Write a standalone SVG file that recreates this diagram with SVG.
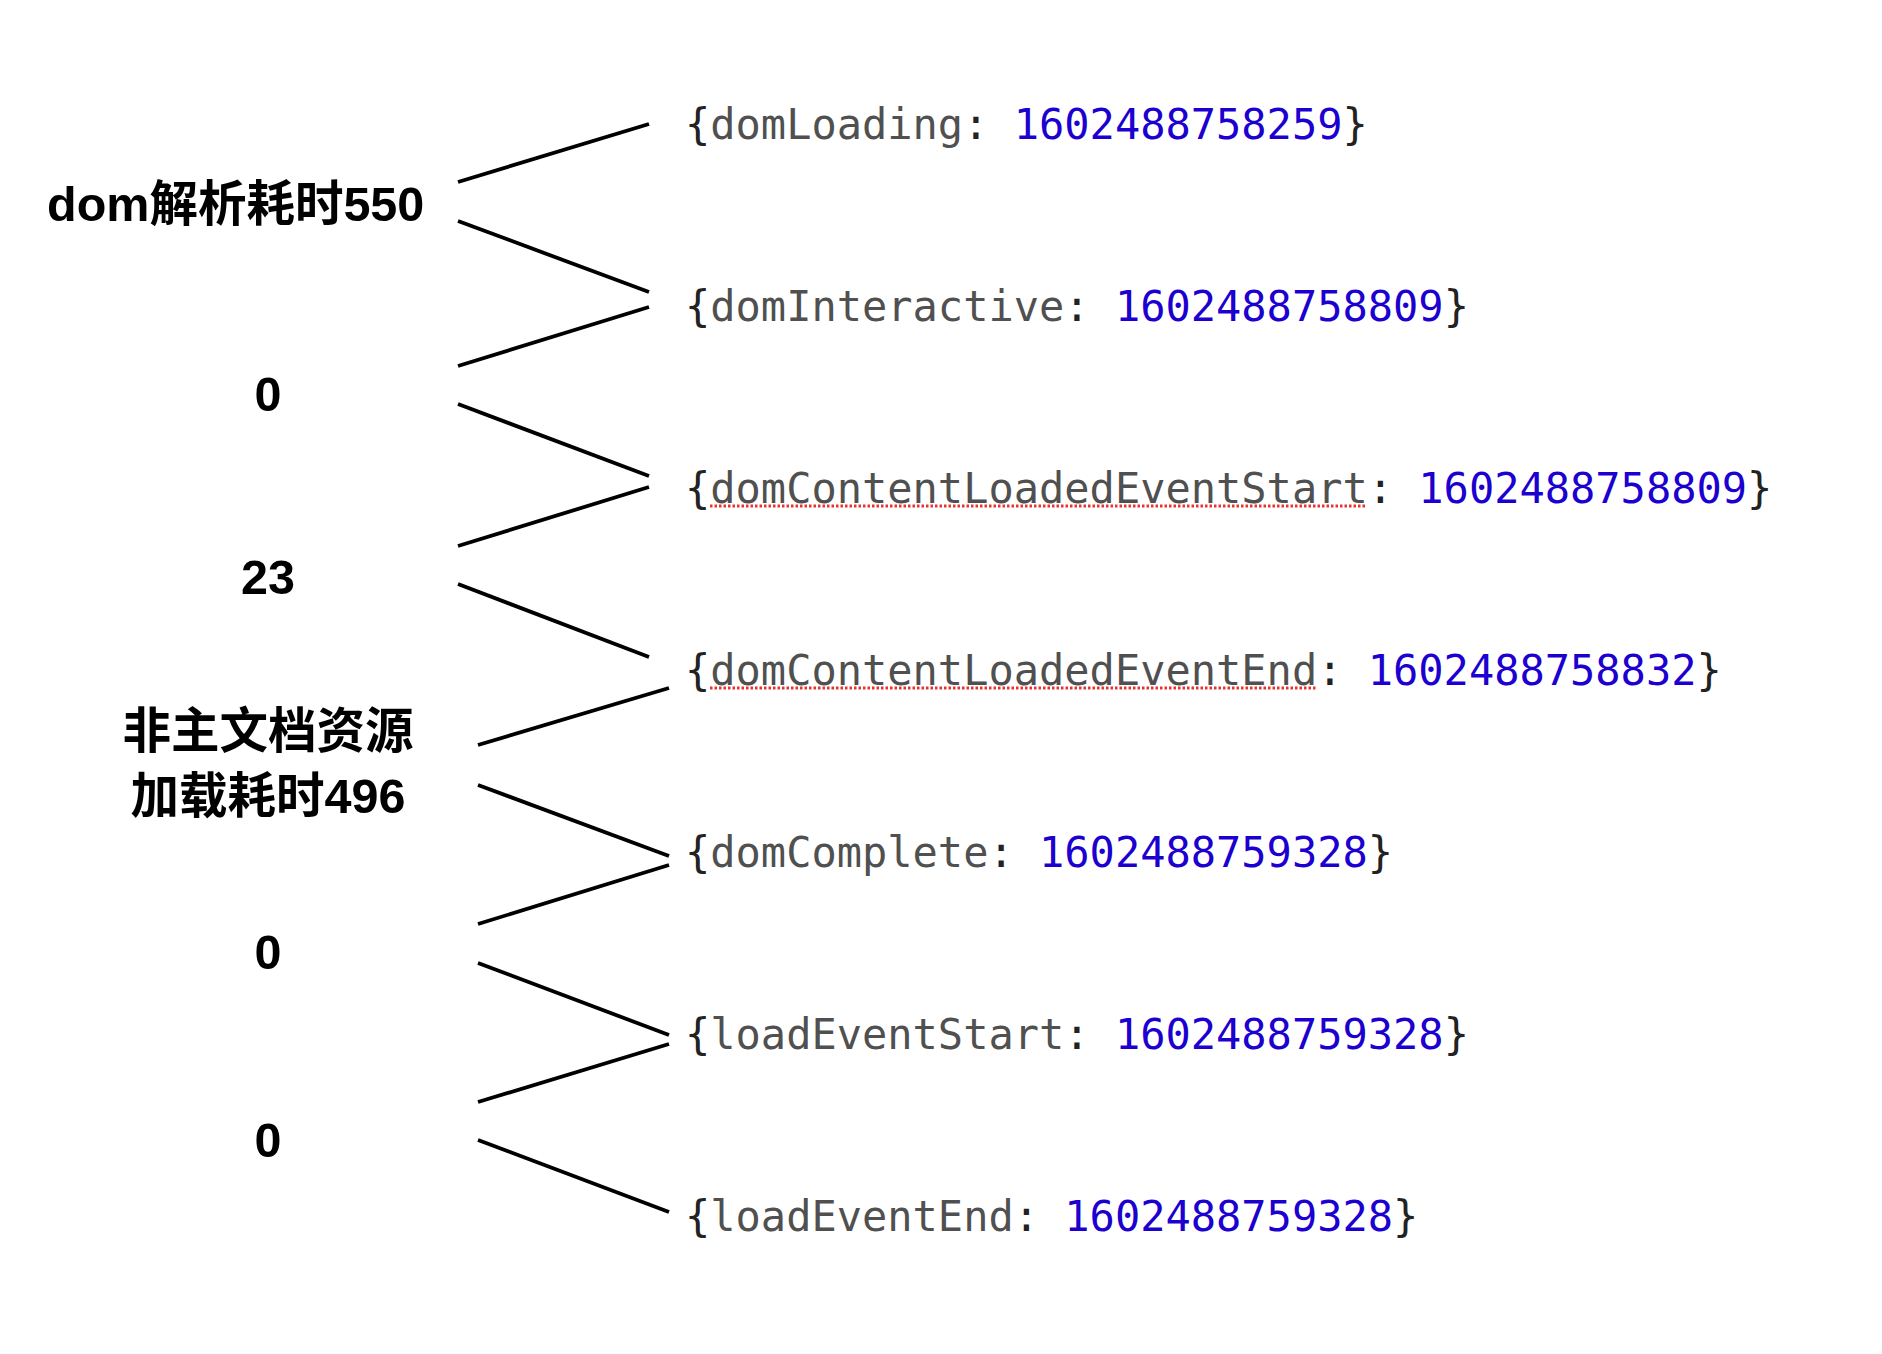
<svg xmlns="http://www.w3.org/2000/svg" width="1882" height="1354" viewBox="0 0 1882 1354">
<style>
.lbl{font-family:"Liberation Sans","Noto Sans CJK SC",sans-serif;font-weight:bold;font-size:48.5px;fill:#000}
.mono{font-family:"DejaVu Sans Mono","Liberation Mono",monospace;font-size:42px}
.b{fill:#222}
.k{fill:#505050}
.n{fill:#1c00cf}
.ln{stroke:#000;stroke-width:3.8;fill:none}
.sp{stroke:#e8322e;stroke-width:2.8;stroke-dasharray:2.5 2;fill:none}
</style>
<rect width="1882" height="1354" fill="#fff"/>
<g id="connectors">
<line class="ln" x1="458" y1="182" x2="649" y2="124"/>
<line class="ln" x1="458" y1="221" x2="649" y2="292"/>
<line class="ln" x1="458" y1="366" x2="649" y2="307"/>
<line class="ln" x1="458" y1="404" x2="649" y2="476"/>
<line class="ln" x1="458" y1="546" x2="649" y2="487"/>
<line class="ln" x1="458" y1="584" x2="649" y2="657"/>
<line class="ln" x1="478" y1="745" x2="669" y2="688"/>
<line class="ln" x1="478" y1="785" x2="669" y2="856"/>
<line class="ln" x1="478" y1="924" x2="669" y2="865"/>
<line class="ln" x1="478" y1="963" x2="669" y2="1035"/>
<line class="ln" x1="478" y1="1102" x2="669" y2="1044"/>
<line class="ln" x1="478" y1="1140" x2="669" y2="1212"/>
</g>
<g id="label-dom-parse"><text class="lbl" x="47" y="221">dom解析耗时550</text></g>
<g id="label-0a"><text class="lbl" x="268" y="411" text-anchor="middle">0</text></g>
<g id="label-23"><text class="lbl" x="268" y="594" text-anchor="middle">23</text></g>
<g id="label-resource"><text class="lbl" x="268" y="748" text-anchor="middle">非主文档资源</text><text class="lbl" x="268" y="813" text-anchor="middle">加载耗时496</text></g>
<g id="label-0b"><text class="lbl" x="268" y="969" text-anchor="middle">0</text></g>
<g id="label-0c"><text class="lbl" x="268" y="1157" text-anchor="middle">0</text></g>
<g id="t-domLoading"><text class="mono" x="685" y="139"><tspan class="b">{</tspan><tspan class="k">domLoading</tspan><tspan class="b">: </tspan><tspan class="n">1602488758259</tspan><tspan class="b">}</tspan></text></g>
<g id="t-domInteractive"><text class="mono" x="685" y="321"><tspan class="b">{</tspan><tspan class="k">domInteractive</tspan><tspan class="b">: </tspan><tspan class="n">1602488758809</tspan><tspan class="b">}</tspan></text></g>
<g id="t-dclStart"><text class="mono" x="685" y="503"><tspan class="b">{</tspan><tspan class="k">domContentLoadedEventStart</tspan><tspan class="b">: </tspan><tspan class="n">1602488758809</tspan><tspan class="b">}</tspan></text><line class="sp" x1="710" y1="506" x2="1367" y2="506"/></g>
<g id="t-dclEnd"><text class="mono" x="685" y="685"><tspan class="b">{</tspan><tspan class="k">domContentLoadedEventEnd</tspan><tspan class="b">: </tspan><tspan class="n">1602488758832</tspan><tspan class="b">}</tspan></text><line class="sp" x1="710" y1="688" x2="1316" y2="688"/></g>
<g id="t-domComplete"><text class="mono" x="685" y="867"><tspan class="b">{</tspan><tspan class="k">domComplete</tspan><tspan class="b">: </tspan><tspan class="n">1602488759328</tspan><tspan class="b">}</tspan></text></g>
<g id="t-loadEventStart"><text class="mono" x="685" y="1049"><tspan class="b">{</tspan><tspan class="k">loadEventStart</tspan><tspan class="b">: </tspan><tspan class="n">1602488759328</tspan><tspan class="b">}</tspan></text></g>
<g id="t-loadEventEnd"><text class="mono" x="685" y="1231"><tspan class="b">{</tspan><tspan class="k">loadEventEnd</tspan><tspan class="b">: </tspan><tspan class="n">1602488759328</tspan><tspan class="b">}</tspan></text></g>
</svg>
